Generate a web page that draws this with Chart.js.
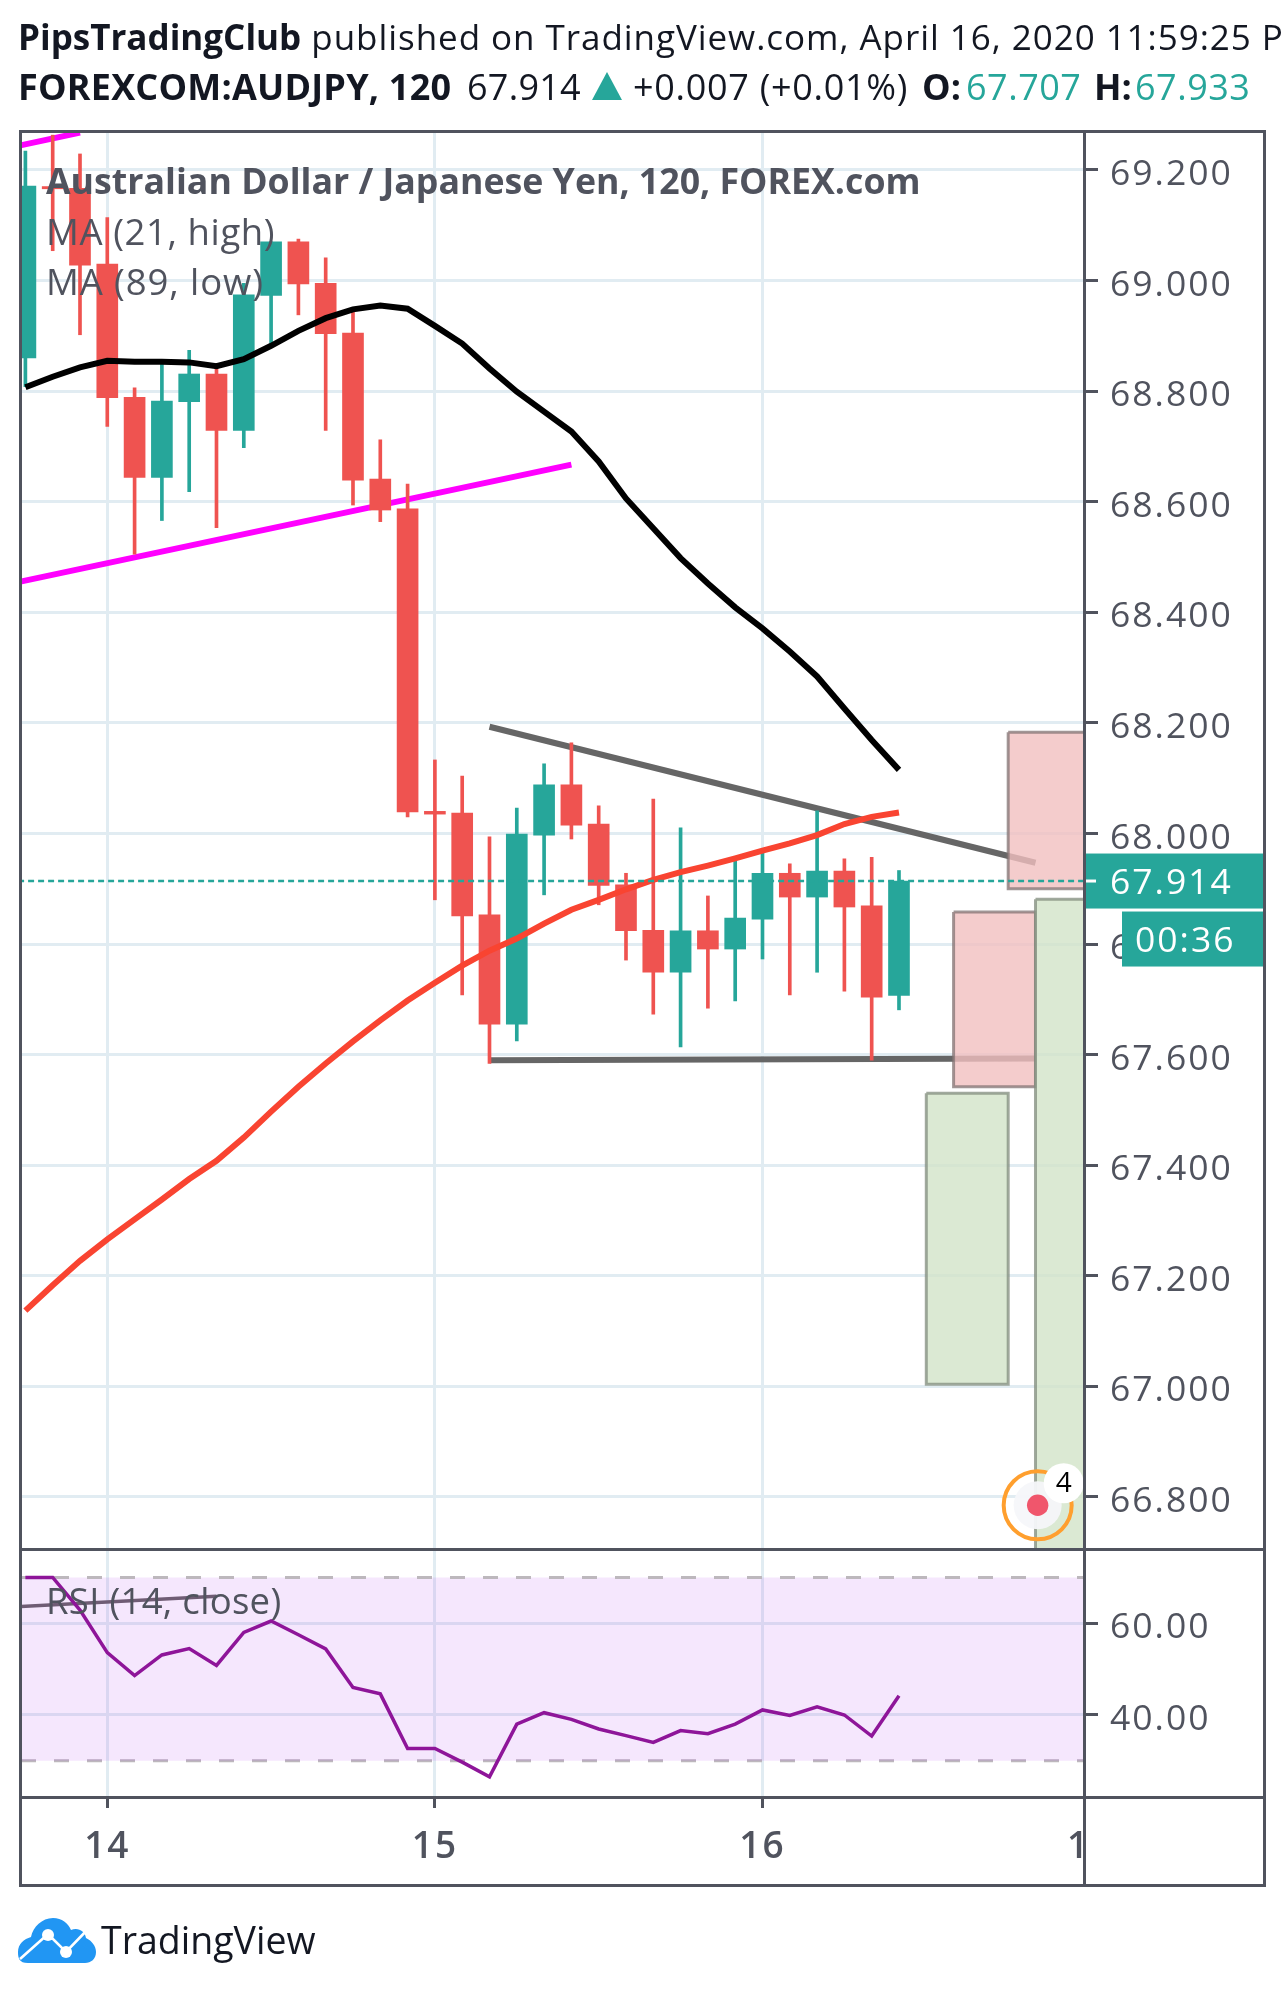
<!DOCTYPE html>
<html>
<head>
<meta charset="utf-8">
<title>AUDJPY 120</title>
<script src="https://cdn.jsdelivr.net/npm/chart.js@4/dist/chart.umd.min.js"></script>
<style>
html, body { margin: 0; padding: 0; background: #fff; }
body { width: 1284px; height: 1995px; position: relative; overflow: hidden; font-family: "Open Sans", sans-serif; }
canvas { position: absolute; left: 0; top: 0; }
.t { position: absolute; white-space: nowrap; font-size: 36px; line-height: 46px; color: #131722; }
.leg { color: #50535e; }
.ma { font-size: 36.5px; letter-spacing: .6px; }
.up { color: #26a69a; letter-spacing: .5px; }
.b { font-weight: 700; }
.line { position: absolute; background: #50535e; }
#clip { position: absolute; left: 0; top: 0; width: 1284px; height: 125px; overflow: hidden; }
#tri { position: absolute; left: 592px; top: 72px; width: 0; height: 0; border-left: 15px solid transparent; border-right: 15px solid transparent; border-bottom: 28px solid #26a69a; }
</style>
</head>
<body>
<canvas id="priceChart" width="1284" height="1995"></canvas>
<canvas id="rsiChart" width="1284" height="1995"></canvas>

<div id="clip">
  <div class="t" style="left:18px;top:14px;font-size:35px;letter-spacing:.95px"><span class="b" style="letter-spacing:0">PipsTradingClub</span> published on TradingView.com, April 16, 2020 11:59:25 PM UTC</div>
  <div class="t b" style="left:18px;top:64px;letter-spacing:.2px">FOREXCOM:AUDJPY, 120</div>
  <div class="t" style="left:467px;top:64px;letter-spacing:.25px">67.914</div>
  <div id="tri"></div>
  <div class="t" style="left:633px;top:64px;letter-spacing:.7px">+0.007 (+0.01%)</div>
  <div class="t b" style="left:922px;top:64px">O:</div>
  <div class="t up" style="left:966px;top:64px">67.707</div>
  <div class="t b" style="left:1094px;top:64px">H:</div>
  <div class="t up" style="left:1135px;top:64px">67.933</div>
  <div class="t b" style="left:1264px;top:64px;width:2px;overflow:hidden;opacity:.25">L:</div>
</div>

<div class="t leg b" style="left:46px;top:157px;font-size:35.7px">Australian Dollar / Japanese Yen, 120, FOREX.com</div>
<div class="t leg ma" style="left:46px;top:208px">MA (21, high)</div>
<div class="t leg ma" style="left:46px;top:258px;letter-spacing:.9px">MA (89, low)</div>
<div class="t leg ma" style="left:46px;top:1577px;letter-spacing:.3px">RSI (14, close)</div>

<div class="line" style="left:19px;top:130px;width:1246px;height:3px"></div>
<div class="line" style="left:19px;top:1548px;width:1246px;height:3px"></div>
<div class="line" style="left:19px;top:1796px;width:1246px;height:3px"></div>
<div class="line" style="left:19px;top:1884px;width:1246px;height:3px"></div>
<div class="line" style="left:19px;top:130px;width:3px;height:1757px"></div>
<div class="line" style="left:1263px;top:130px;width:3px;height:1757px"></div>
<div class="line" style="left:1083px;top:130px;width:3px;height:1757px"></div>

<svg style="position:absolute;left:0;top:1900px" width="110" height="80" viewBox="0 0 110 80">
  <path fill="#2196f3" d="M28 63 C19 63 18 58 18 52 C18 44 24 39 31 37 C33 27 42 18 53 18 C62 18 68 23 71 30 C78 27 85 31 86 38 C92 41 96 46 96 52 C96 59 91 63 85 63 Z"/>
  <polyline fill="none" stroke="#fff" stroke-width="2.6" points="20,59 48,34 66,52 90,27"/>
  <circle cx="48" cy="35" r="6" fill="#fff"/>
  <circle cx="66" cy="52" r="6" fill="#fff"/>
</svg>
<div class="t" style="left:101px;top:1917px;font-size:37.5px">TradingView</div>

<script>
// x is the bar number, 12 two hour bars per day
const opens  = [68.860, 69.170, 69.167, 69.030, 68.789, 68.644, 68.781, 68.831, 68.729, 68.973, 69.070, 68.995, 68.905, 68.641, 68.587, 68.040, 68.037, 67.853, 67.655, 67.997, 68.088, 68.017, 67.907, 67.825, 67.749, 67.824, 67.791, 67.845, 67.928, 67.885, 67.932, 67.869, 67.707];
const closes = [69.171, 69.166, 69.028, 68.788, 68.644, 68.782, 68.831, 68.729, 68.974, 69.070, 68.994, 68.904, 68.639, 68.585, 68.039, 68.035, 67.851, 67.655, 67.999, 68.088, 68.015, 67.906, 67.824, 67.749, 67.824, 67.791, 67.847, 67.928, 67.885, 67.932, 67.867, 67.704, 67.914];
const highs  = [69.234, 69.263, 69.229, 69.114, 68.806, 68.850, 68.874, 68.841, 68.995, 69.070, 69.075, 69.041, 68.944, 68.712, 68.632, 68.133, 68.104, 67.994, 68.046, 68.126, 68.164, 68.050, 67.928, 68.062, 68.010, 67.887, 67.958, 67.965, 67.945, 68.041, 67.954, 67.957, 67.933];
const lows   = [68.808, 69.054, 68.902, 68.736, 68.505, 68.566, 68.618, 68.553, 68.698, 68.887, 68.938, 68.729, 68.594, 68.564, 68.030, 67.880, 67.708, 67.584, 67.625, 67.889, 67.990, 67.871, 67.771, 67.673, 67.614, 67.684, 67.697, 67.773, 67.708, 67.749, 67.715, 67.590, 67.681];

const maHigh = [68.807, 68.826, 68.843, 68.855, 68.853, 68.853, 68.852, 68.845, 68.858, 68.882, 68.909, 68.932, 68.948, 68.955, 68.949, 68.918, 68.886, 68.841, 68.799, 68.763, 68.727, 68.673, 68.606, 68.552, 68.498, 68.452, 68.409, 68.371, 68.329, 68.284, 68.226, 68.169, 68.115];
const maLow  = [67.137, 67.183, 67.227, 67.266, 67.302, 67.338, 67.375, 67.408, 67.450, 67.497, 67.542, 67.584, 67.624, 67.662, 67.698, 67.730, 67.761, 67.788, 67.810, 67.837, 67.862, 67.880, 67.899, 67.916, 67.930, 67.942, 67.955, 67.969, 67.982, 67.997, 68.017, 68.030, 68.038];
const rsi    = [70.0, 70.0, 62.9, 53.6, 48.6, 53.1, 54.5, 50.8, 58.0, 60.5, 57.5, 54.4, 46.0, 44.6, 32.7, 32.7, 29.7, 26.5, 38.0, 40.5, 39.05, 36.95, 35.5, 34.0, 36.6, 35.9, 38.0, 41.1, 39.9, 41.8, 40.0, 35.4, 44.2];

const priceTicks = [66.8, 67.0, 67.2, 67.4, 67.6, 67.8, 68.0, 68.2, 68.4, 68.6, 68.8, 69.0, 69.2];
const rsiTicks = [40, 60];
const dayTicks = [3, 15, 27, 39];
const dayLabels = ['14', '15', '16', '17'];

const lastPrice = 67.914;
const timer = '00:36';
const eventPoint = [37.08, 66.785];
const eventCount = '4';

// drawings, as [bar, price] pairs
const trendMagentaLow = [[-1, 68.447], [20, 68.667]];
const trendMagentaTop = [[-1, 69.236], [2, 69.2675]];
const trendGrayTop = [[17, 68.193], [37, 67.947]];
const trendGrayLow = [[17, 67.590], [37, 67.593]];
const trendRsi = [[-1, 63.4], [7, 65.9]];
const lastPriceLine = [[-1, lastPrice], [40, lastPrice]];

// boxes, as [first bar, last bar, top price, bottom price]
const greenBoxLeft = [33, 36, 67.530, 67.004];
const pinkBoxLow = [34, 37, 67.858, 67.542];
const pinkBoxTop = [36, 40, 68.183, 67.900];
const greenBoxRight = [37, 40, 67.881, 66.5];

const xMin = -0.161, xMax = 38.777;
const ink = '#50535e', gridColor = '#e1ecf2';
const upColor = '#26a69a', downColor = '#ef5350';
const axisFont = { family: '"Open Sans", sans-serif', size: 35.5 };

const bars = opens.map((o, i) => i);
const series = (values) => values.map((v, i) => ({ x: i, y: v }));
const points = (pairs) => pairs.map((p) => ({ x: p[0], y: p[1] }));
const candleColor = bars.map((i) => (closes[i] >= opens[i] ? upColor : downColor));

function lineSet(data, color, width, order, extra) {
  return Object.assign({
    type: 'line', data: data, borderColor: color, borderWidth: width, order: order,
    pointRadius: 0, tension: 0, fill: false, borderCapStyle: 'butt'
  }, extra);
}

function boxSet(box, fillColor, edgeColor, order) {
  const [a, b, top, bottom] = box;
  const corners = [[a, top], [b, top], [b, bottom], [a, bottom], [a, top]];
  return lineSet(points(corners), edgeColor, 3, order, { fill: 'shape', backgroundColor: fillColor });
}

function fixedTicks(values) {
  return (scale) => { scale.ticks = values.map((v) => ({ value: v })); };
}

// wider tick text, and tick labels sit a little under their grid line
const tickText = {
  id: 'tickText',
  beforeDraw(chart) {
    chart.ctx.letterSpacing = '2px';
    chart.scales.y.getLabelItems().forEach((item) => { item.options.translation[1] += 5; });
  }
};

const priceMarks = {
  id: 'priceMarks',
  afterDraw(chart) {
    const ctx = chart.ctx, x = chart.scales.x, y = chart.scales.y;
    const py = y.getPixelForValue(lastPrice);
    const left = chart.chartArea.right - 1, right = 1263;
    ctx.save();
    ctx.fillStyle = upColor;
    ctx.fillRect(left, py - 27.5, right - left, 55);
    ctx.fillRect(1122, py + 30.5, right - 1122, 55);
    ctx.fillStyle = '#fff';
    ctx.fillRect(left, py - 1.5, 13, 3);
    ctx.font = '35.5px "Open Sans", sans-serif';
    ctx.textBaseline = 'middle';
    ctx.fillText(lastPrice.toFixed(3), 1110, py + 3);
    ctx.fillText(timer, 1135, py + 61);

    // event bubble at the bottom of the price pane
    const ex = x.getPixelForValue(eventPoint[0]), ey = y.getPixelForValue(eventPoint[1]);
    ctx.letterSpacing = '0px';
    ctx.beginPath(); ctx.arc(ex, ey, 24, 0, Math.PI * 2);
    ctx.fillStyle = 'rgba(246,247,250,.95)'; ctx.fill();
    ctx.beginPath(); ctx.arc(ex, ey, 34, 0, Math.PI * 2);
    ctx.strokeStyle = '#ff9f2e'; ctx.lineWidth = 4; ctx.stroke();
    ctx.beginPath(); ctx.arc(ex, ey, 10.7, 0, Math.PI * 2);
    ctx.fillStyle = '#f0566c'; ctx.fill();
    ctx.beginPath(); ctx.arc(ex + 26, ey - 22, 20, 0, Math.PI * 2);
    ctx.fillStyle = '#fff'; ctx.fill();
    ctx.fillStyle = '#000';
    ctx.font = '28px "Open Sans", sans-serif';
    ctx.textAlign = 'center';
    ctx.fillText(eventCount, ex + 26, ey - 21);
    ctx.restore();
  }
};

// the last day label is cut by the price scale column
const timeMask = {
  id: 'timeMask',
  afterDraw(chart) {
    const a = chart.chartArea, ctx = chart.ctx;
    ctx.fillStyle = '#fff';
    ctx.fillRect(a.right, a.bottom + 1, 180, 88);
  }
};

new Chart(document.getElementById('priceChart'), {
  type: 'bar',
  plugins: [tickText, priceMarks],
  data: {
    datasets: [
      lineSet(points(lastPriceLine), upColor, 2.6, 1, { borderDash: [6, 4] }),
      lineSet(series(maLow), '#f94431', 6, 2),
      lineSet(series(maHigh), '#000000', 6, 3),
      { data: bars.map((i) => ({ x: i, y: [opens[i], closes[i]] })), backgroundColor: candleColor, barThickness: 21, grouped: false, order: 4 },
      { data: bars.map((i) => ({ x: i, y: [lows[i], highs[i]] })), backgroundColor: candleColor, barThickness: 3, grouped: false, order: 5 },
      boxSet(greenBoxRight, 'rgba(210,228,200,.8)', 'rgba(130,140,125,.75)', 6),
      boxSet(pinkBoxTop, 'rgba(241,191,191,.8)', 'rgba(130,115,115,.75)', 7),
      boxSet(pinkBoxLow, 'rgba(241,191,191,.8)', 'rgba(130,115,115,.75)', 8),
      boxSet(greenBoxLeft, 'rgba(210,228,200,.8)', 'rgba(130,140,125,.75)', 9),
      lineSet(points(trendGrayTop), '#666666', 6, 10),
      lineSet(points(trendGrayLow), '#666666', 6, 11),
      lineSet(points(trendMagentaLow), '#ff00ff', 6, 12),
      lineSet(points(trendMagentaTop), '#ff00ff', 6, 13)
    ]
  },
  options: {
    responsive: false,
    animation: false,
    layout: { padding: { left: 21, top: 132, right: 19, bottom: 447 } },
    plugins: { legend: { display: false }, tooltip: { enabled: false } },
    scales: {
      x: {
        type: 'linear', min: xMin, max: xMax, offset: false,
        afterBuildTicks: fixedTicks(dayTicks.slice(0, 3)),
        afterFit: (s) => { s.height = 0; },
        grid: { color: gridColor, lineWidth: 3, drawTicks: false, offset: false },
        border: { display: false },
        ticks: { display: false }
      },
      y: {
        position: 'right', min: 66.7077, max: 69.2687,
        afterBuildTicks: fixedTicks(priceTicks),
        afterFit: (s) => { s.width = 181; },
        grid: { color: gridColor, lineWidth: 3, tickColor: ink, tickWidth: 3, tickLength: 14 },
        border: { color: ink, width: 3 },
        ticks: { color: ink, font: axisFont, padding: 12, autoSkip: false, callback: (v) => v.toFixed(3) }
      }
    }
  }
});

new Chart(document.getElementById('rsiChart'), {
  type: 'line',
  plugins: [tickText, timeMask],
  data: {
    datasets: [
      lineSet(series(rsi), '#8e1599', 3.5, 1),
      lineSet(points(trendRsi), '#6f5c74', 3.5, 2),
      lineSet(points([[xMin, 70], [xMax, 70]]), '#bdb8bd', 3, 3, { borderDash: [15, 18], fill: '+1', backgroundColor: 'rgba(153,21,238,.1)' }),
      lineSet(points([[xMin, 30], [xMax, 30]]), '#bdb8bd', 3, 4, { borderDash: [15, 18] })
    ]
  },
  options: {
    responsive: false,
    animation: false,
    layout: { padding: { left: 21, top: 1551, right: 19, bottom: 110 } },
    plugins: { legend: { display: false }, tooltip: { enabled: false } },
    scales: {
      x: {
        type: 'linear', min: xMin, max: xMax,
        afterBuildTicks: fixedTicks(dayTicks),
        afterFit: (s) => { s.height = 88; },
        grid: {
          color: (c) => (c.tick.value > xMax ? 'transparent' : gridColor),
          tickColor: (c) => (c.tick.value > xMax ? 'transparent' : ink),
          lineWidth: 3, tickWidth: 3, tickLength: 11
        },
        border: { display: false },
        ticks: { color: ink, font: Object.assign({}, axisFont, { size: 37, weight: '600' }), padding: 17, maxRotation: 0, autoSkip: false, callback: (v) => dayLabels[dayTicks.indexOf(v)] }
      },
      y: {
        position: 'right', min: 22.1, max: 75.78,
        afterBuildTicks: fixedTicks(rsiTicks),
        afterFit: (s) => { s.width = 181; },
        grid: { color: gridColor, lineWidth: 3, tickColor: ink, tickWidth: 3, tickLength: 14 },
        border: { display: false },
        ticks: { color: ink, font: axisFont, padding: 12, autoSkip: false, callback: (v) => v.toFixed(2) }
      }
    }
  }
});
</script>
</body>
</html>
